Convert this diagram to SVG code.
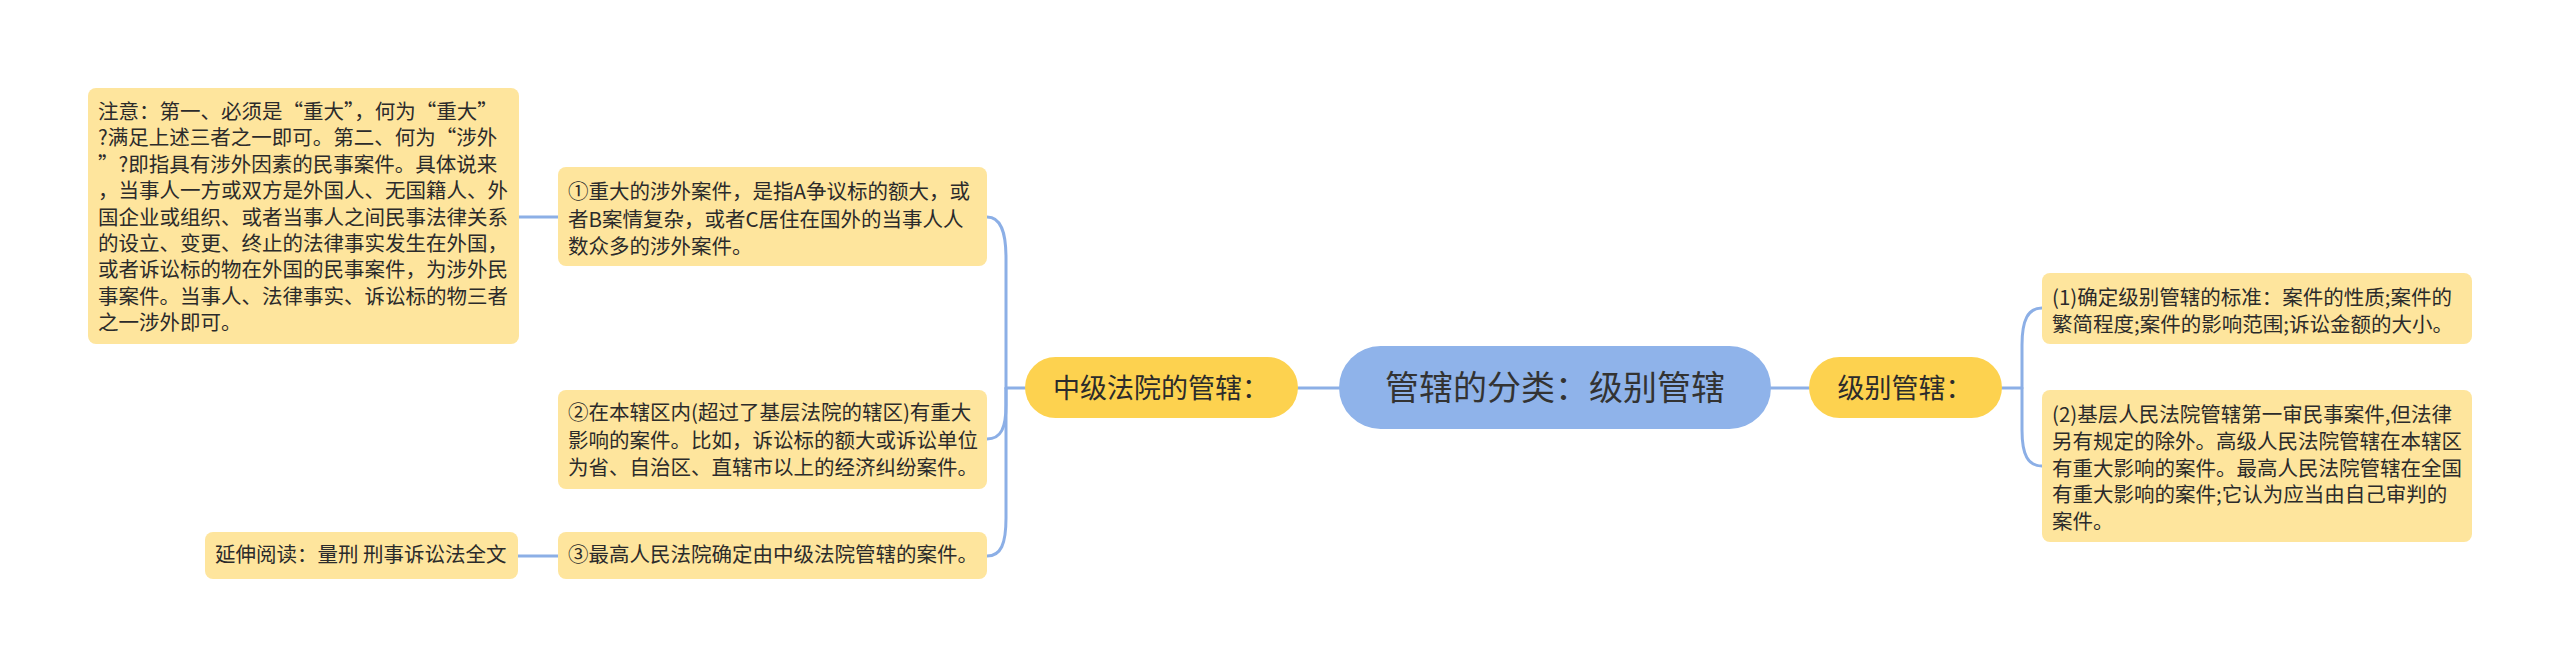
<svg xmlns="http://www.w3.org/2000/svg" width="2560" height="669" viewBox="0 0 2560 669">
<style>
.bg{fill:#ffffff}
.leaf{fill:#fee59d}
.l1{fill:#fdd24f}
.root{fill:#8fb3ea}
.conn{fill:none;stroke:#8cafe6;stroke-width:3;stroke-linecap:round}
text{font-family:"Microsoft YaHei","Noto Sans CJK SC","Noto Sans",sans-serif;fill:#2b2b2b}
.t{font-size:20.5px}
.t1{font-size:27px;text-anchor:middle}
.t0{font-size:34px;text-anchor:middle;fill:#333333}
</style>
<rect class="bg" x="0" y="0" width="2560" height="669"/>
<g id="connectors">
<path class="conn" d="M1298,388 H1339"/>
<path class="conn" d="M1771,388 H1809"/>
<path class="conn" d="M1025,388 H1006"/>
<path class="conn" d="M987,217 C1001,217 1006,232 1006,258 V518 C1006,544 1001,556 987,556"/>
<path class="conn" d="M987,439 C1001,439 1006,428 1006,405 V388"/>
<path class="conn" d="M519,217 H558"/>
<path class="conn" d="M518,556 H558"/>
<path class="conn" d="M2002,388 H2022"/>
<path class="conn" d="M2042,308 C2028,308 2022,320 2022,345 V430 C2022,455 2028,466 2042,466"/>
</g>
<g id="root">
<rect class="root" x="1339" y="346" width="432" height="83" rx="41.5"/>
<text class="t0" x="1555" y="400">管辖的分类：级别管辖</text>
</g>
<g id="mid-court">
<rect class="l1" x="1025" y="357" width="273" height="61" rx="30.5"/>
<text class="t1" x="1161" y="397.5">中级法院的管辖：</text>
</g>
<g id="level">
<rect class="l1" x="1809" y="357" width="193" height="61" rx="30.5"/>
<text class="t1" x="1905" y="397.5">级别管辖：</text>
</g>
<g id="leaf1">
<rect class="leaf" x="558" y="167" width="429" height="99" rx="8"/>
<text class="t" x="568" y="199">①重大的涉外案件，是指A争议标的额大，或</text>
<text class="t" x="568" y="226.5">者B案情复杂，或者C居住在国外的当事人人</text>
<text class="t" x="568" y="254">数众多的涉外案件。</text>
</g>
<g id="note">
<rect class="leaf" x="88" y="88" width="431" height="256" rx="8"/>
<text class="t" x="98" y="119">注意：第一、必须是“重大”，何为“重大”</text>
<text class="t" x="98" y="145.4">?满足上述三者之一即可。第二、何为“涉外</text>
<text class="t" x="98" y="171.8">”?即指具有涉外因素的民事案件。具体说来</text>
<text class="t" x="98" y="198.2">，当事人一方或双方是外国人、无国籍人、外</text>
<text class="t" x="98" y="224.6">国企业或组织、或者当事人之间民事法律关系</text>
<text class="t" x="98" y="251">的设立、变更、终止的法律事实发生在外国，</text>
<text class="t" x="98" y="277.4">或者诉讼标的物在外国的民事案件，为涉外民</text>
<text class="t" x="98" y="303.8">事案件。当事人、法律事实、诉讼标的物三者</text>
<text class="t" x="98" y="330.2">之一涉外即可。</text>
</g>
<g id="leaf2">
<rect class="leaf" x="558" y="390" width="429" height="99" rx="8"/>
<text class="t" x="568" y="420">②在本辖区内(超过了基层法院的辖区)有重大</text>
<text class="t" x="568" y="447.5">影响的案件。比如，诉讼标的额大或诉讼单位</text>
<text class="t" x="568" y="475">为省、自治区、直辖市以上的经济纠纷案件。</text>
</g>
<g id="leaf3">
<rect class="leaf" x="558" y="532" width="429" height="47" rx="8"/>
<text class="t" x="568" y="562">③最高人民法院确定由中级法院管辖的案件。</text>
</g>
<g id="further">
<rect class="leaf" x="205" y="532" width="313" height="47" rx="8"/>
<text class="t" x="215" y="562">延伸阅读：量刑 刑事诉讼法全文</text>
</g>
<g id="std">
<rect class="leaf" x="2042" y="273" width="430" height="71" rx="8"/>
<text class="t" x="2052" y="305">(1)确定级别管辖的标准：案件的性质;案件的</text>
<text class="t" x="2052" y="332">繁简程度;案件的影响范围;诉讼金额的大小。</text>
</g>
<g id="basic">
<rect class="leaf" x="2042" y="390" width="430" height="152" rx="8"/>
<text class="t" x="2052" y="422">(2)基层人民法院管辖第一审民事案件,但法律</text>
<text class="t" x="2052" y="449">另有规定的除外。高级人民法院管辖在本辖区</text>
<text class="t" x="2052" y="475.5">有重大影响的案件。最高人民法院管辖在全国</text>
<text class="t" x="2052" y="502">有重大影响的案件;它认为应当由自己审判的</text>
<text class="t" x="2052" y="529">案件。</text>
</g>
</svg>
